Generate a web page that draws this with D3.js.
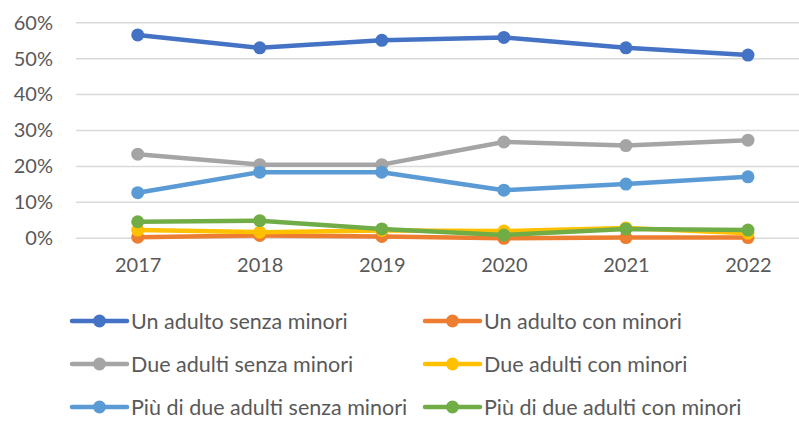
<!DOCTYPE html>
<html>
<head>
<meta charset="utf-8">
<script src="https://cdn.jsdelivr.net/npm/d3@7"></script>
<style>
  body { margin: 0; background: #fff; }
  text { font-family: Lato, "Open Sans", sans-serif; fill: #595959; }
</style>
</head>
<body>
<div id="chart"></div>
<script>
// categories + series (share of households)
const years = ["2017", "2018", "2019", "2020", "2021", "2022"];
const seriesNames = [
  "Un adulto senza minori",
  "Un adulto con minori",
  "Due adulti senza minori",
  "Due adulti con minori",
  "Più di due adulti senza minori",
  "Più di due adulti con minori"
];
const unAdultoSenza = [0.566, 0.530, 0.551, 0.559, 0.530, 0.510];
const unAdultoCon = [0.003, 0.008, 0.005, 0.000, 0.002, 0.002];
const dueAdultiSenza = [0.234, 0.205, 0.205, 0.268, 0.258, 0.273];
const dueAdultiCon = [0.023, 0.017, 0.022, 0.020, 0.029, 0.014];
const piuDiDueSenza = [0.127, 0.184, 0.184, 0.134, 0.151, 0.171];
const piuDiDueCon = [0.046, 0.049, 0.026, 0.009, 0.026, 0.023];
const yTicks = [0, 0.1, 0.2, 0.3, 0.4, 0.5, 0.6];

const seriesValues = [unAdultoSenza, unAdultoCon, dueAdultiSenza, dueAdultiCon, piuDiDueSenza, piuDiDueCon];
const colors = ["#4472C4", "#ED7D31", "#A5A5A5", "#FFC000", "#5B9BD5", "#70AD47"];

const width = 799, height = 421;
const svg = d3.select("#chart").append("svg").attr("width", width).attr("height", height);

const x = d3.scalePoint().domain(years).range([76.7, 809]).padding(0.5);
const y = d3.scaleLinear().domain([0, 0.6]).range([238.3, 22.7]);

// Grid
svg.selectAll(".grid").data(yTicks).enter().append("line")
  .attr("x1", 76).attr("x2", width)
  .attr("y1", d => y(d)).attr("y2", d => y(d))
  .attr("stroke", "#d9d9d9").attr("stroke-width", 1.5);

// Y axis labels
const yAxis = svg.append("g").attr("transform", "translate(53,0)")
  .call(d3.axisLeft(y).tickValues(yTicks).tickFormat(d3.format(".0%")).tickSize(0).tickPadding(0));
yAxis.select(".domain").remove();
yAxis.selectAll("text").style("font-size", "20px").attr("fill", "#595959").attr("font-family", null);

// X axis labels
const xAxis = svg.append("g").attr("transform", "translate(0,258)")
  .call(d3.axisBottom(x).tickSize(0).tickPadding(0));
xAxis.select(".domain").remove();
xAxis.selectAll("text").style("font-size", "20px").attr("fill", "#595959").attr("font-family", null);

// Lines
const line = d3.line().x((d, i) => x(years[i])).y(d => y(d));
seriesValues.forEach((vals, s) => {
  const g = svg.append("g");
  g.append("path").datum(vals).attr("d", line)
    .attr("fill", "none").attr("stroke", colors[s]).attr("stroke-width", 4.5)
    .attr("stroke-linejoin", "round");
  g.selectAll("circle").data(vals).enter().append("circle")
    .attr("cx", (d, i) => x(years[i])).attr("cy", d => y(d))
    .attr("r", 6.5).attr("fill", colors[s]);
});

// Legend
const legend = svg.append("g");
seriesNames.forEach((name, i) => {
  const lx = i % 2 === 0 ? 72 : 425;
  const ly = 321 + Math.floor(i / 2) * 43;
  const item = legend.append("g").attr("transform", `translate(${lx},${ly})`);
  item.append("line").attr("x1", 0).attr("x2", 55).attr("y1", 0).attr("y2", 0)
    .attr("stroke", colors[i]).attr("stroke-width", 4.5).attr("stroke-linecap", "round");
  item.append("circle").attr("cx", 27.5).attr("cy", 0).attr("r", 6.5).attr("fill", colors[i]);
  item.append("text").attr("x", 59).attr("y", 0).attr("dy", "0.35em")
    .style("font-size", "21.5px").text(name);
});
</script>
</body>
</html>
